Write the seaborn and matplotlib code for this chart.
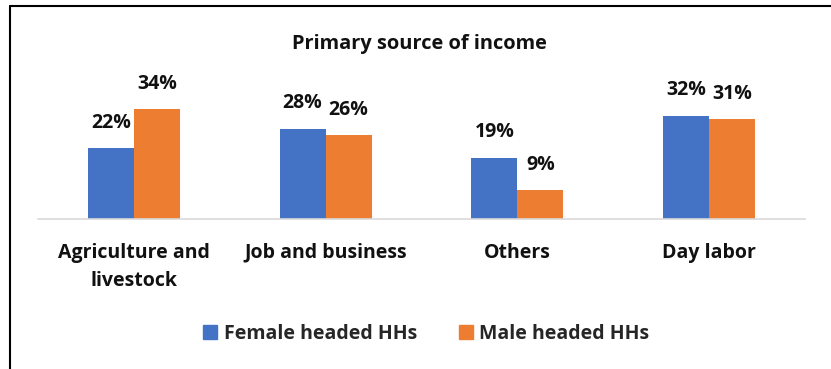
import matplotlib
matplotlib.use("Agg")
import matplotlib.pyplot as plt
import seaborn as sns
import pandas as pd
from matplotlib.lines import Line2D

categories = ["Agriculture and\nlivestock", "Job and business", "Others", "Day labor"]
series_names = ["Female headed HHs", "Male headed HHs"]
female = [22, 28, 19, 32]
male = [34, 26, 9, 31]
colors = ["#4472C4", "#ED7D31"]

df = pd.DataFrame({
    "category": categories * 2,
    "group": [series_names[0]] * 4 + [series_names[1]] * 4,
    "value": female + male,
})

sns.set_theme(style="white")
plt.rcParams["font.family"] = ["Open Sans", "DejaVu Sans"]

fig = plt.figure(figsize=(8.31, 3.69), dpi=100)
ax = fig.add_axes([38 / 831, 1 - 219 / 369, 767 / 831, 127 / 369])

sns.barplot(data=df, x="category", y="value", hue="group", palette=colors,
            width=0.48, gap=0, saturation=1, linewidth=0, ax=ax, legend=False)

ax.set_xlim(-0.5, 3.5)
ax.set_ylim(0, 39.3)

for container in ax.containers:
    for bar in container:
        h = bar.get_height()
        ax.annotate(f"{h:.0f}%", (bar.get_x() + bar.get_width() / 2, h),
                    xytext=(0, 11), textcoords="offset points",
                    ha="center", va="bottom", fontsize=14, fontweight="bold",
                    color="#111111", annotation_clip=False)

for s in ["top", "right", "left"]:
    ax.spines[s].set_visible(False)
ax.spines["bottom"].set_color("#d9d9d9")
ax.spines["bottom"].set_linewidth(1.2)
ax.set_yticks([])
ax.set_xlabel("")
ax.set_ylabel("")
ax.tick_params(axis="x", length=0, pad=17)
for lbl in ax.get_xticklabels():
    lbl.set_fontsize(14)
    lbl.set_fontweight("bold")
    lbl.set_color("#111111")
    lbl.set_linespacing(1.57)

fig.text(419 / 831, 1 - 44 / 369, "Primary source of income", ha="center", va="center",
         fontsize=14.4, fontweight="bold", color="#111111")

handles = [Line2D([0], [0], marker="s", linestyle="", markersize=10,
                  markerfacecolor=c, markeredgecolor=c) for c in colors]
fig.legend(handles, series_names, loc="center", bbox_to_anchor=(425 / 831, 1 - 334 / 369),
           ncol=2, frameon=False, prop={"size": 14, "weight": "bold"},
           handletextpad=0.2, columnspacing=2.0, handlelength=1.0)

# outer frame: top and left edges
fig.add_artist(Line2D([9.5 / 831, 1], [1 - 5.5 / 369, 1 - 5.5 / 369],
                      color="black", linewidth=1.5, transform=fig.transFigure))
fig.add_artist(Line2D([9.5 / 831, 9.5 / 831], [0, 1 - 5.5 / 369],
                      color="black", linewidth=1.5, transform=fig.transFigure))

fig.savefig("out.png", dpi=100, facecolor="white")
